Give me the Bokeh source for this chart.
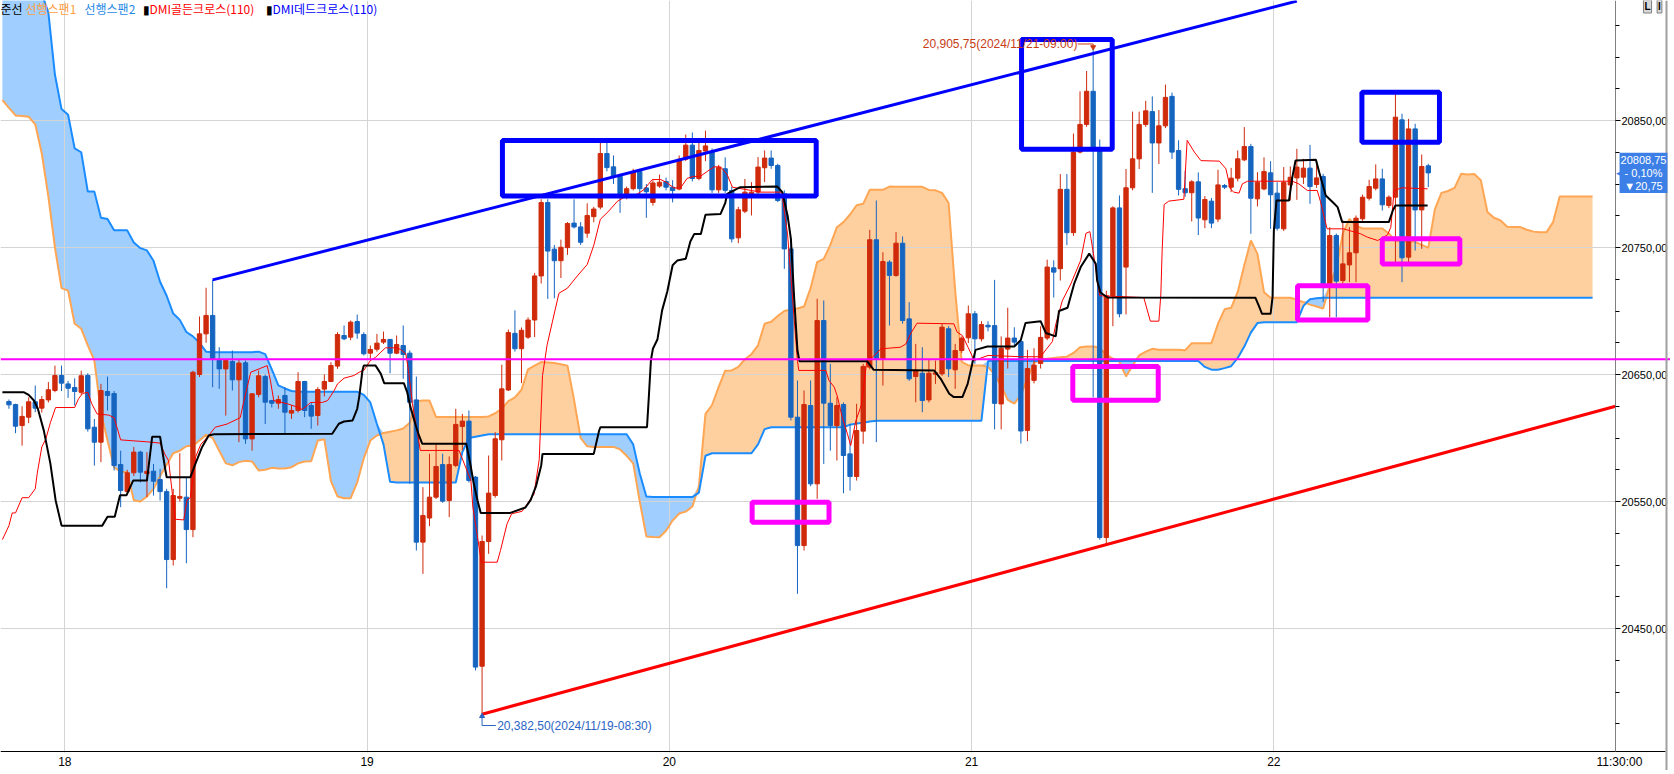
from bokeh.plotting import figure
from bokeh.models import Range1d, Label, Span, FixedTicker, CustomJSTickFormatter, ColumnDataSource
from bokeh.embed import file_html
from bokeh.resources import INLINE
import numpy as np

# 30분봉, 막대 번호 k (k=9.5 가 18일 경계, 한 날 = 46봉)
bar_k = list(range(1, 218))
opens = [
    20628.7, 20626.4, 20609.8, 20616.4, 20628.5, 20623.5, 20630.0, 20637.4, 20649.2, 20642.6,
    20639.8, 20636.0, 20649.2, 20608.5, 20596.7, 20636.6, 20635.0, 20579.1, 20557.8, 20572.6,
    20588.9, 20572.0, 20573.9, 20567.3, 20557.8, 20504.3, 20552.6, 20553.4, 20527.9, 20650.0,
    20682.0, 20696.5, 20661.0, 20654.4, 20660.2, 20645.8, 20659.2, 20599.3, 20634.3, 20648.4,
    20629.5, 20627.4, 20633.5, 20619.6, 20621.7, 20644.5, 20625.6, 20617.7, 20638.5, 20644.5,
    20656.6, 20680.7, 20679.4, 20691.7, 20681.5, 20666.8, 20669.9, 20675.5, 20677.6, 20666.8,
    20672.8, 20666.8, 20630.0, 20518.0, 20537.0, 20553.4, 20579.1, 20550.8, 20578.4, 20609.1,
    20613.3, 20569.2, 20420.3, 20518.5, 20554.7, 20598.6, 20637.8, 20682.4, 20670.3, 20679.4,
    20692.9, 20727.6, 20785.4, 20748.7, 20739.6, 20749.9, 20769.2, 20766.2, 20761.3, 20774.3,
    20781.8, 20824.0, 20813.5, 20806.0, 20792.4, 20796.3, 20809.9, 20796.9, 20785.5, 20798.4,
    20802.0, 20797.5, 20796.0, 20819.5, 20830.6, 20804.4, 20826.0, 20825.5, 20795.4, 20812.0,
    20794.9, 20757.6, 20778.6, 20791.0, 20793.6, 20812.8, 20820.4, 20814.6, 20792.3, 20748.9,
    20616.4, 20515.3, 20625.6, 20563.9, 20692.5, 20627.4, 20609.8, 20626.4, 20587.5, 20569.7,
    20605.4, 20655.8, 20756.1, 20662.4, 20738.5, 20728.0, 20753.4, 20693.8, 20648.4, 20651.0,
    20630.0, 20650.2, 20650.5, 20686.0, 20653.7, 20668.9, 20678.9, 20697.8, 20678.1, 20688.8,
    20688.5, 20626.8, 20670.0, 20678.7, 20676.0, 20606.0, 20645.4, 20658.7, 20678.7, 20734.0,
    20733.3, 20795.8, 20761.7, 20825.1, 20846.9, 20873.0, 20828.0, 20521.6, 20712.0, 20781.2,
    20734.6, 20797.0, 20819.8, 20846.9, 20857.0, 20832.3, 20845.8, 20869.0, 20826.4, 20796.3,
    20793.1, 20801.7, 20771.8, 20786.5, 20772.4, 20798.8, 20797.5, 20804.6, 20819.0, 20829.5,
    20788.3, 20796.1, 20808.8, 20792.8, 20764.7, 20799.3, 20804.8, 20805.4, 20812.5, 20799.6,
    20805.9, 20721.4, 20759.4, 20724.0, 20736.3, 20745.8, 20772.6, 20788.8, 20796.7, 20804.0,
    20783.1, 20789.6, 20850.5, 20742.4, 20843.4, 20779.6, 20814.3,
]
highs = [
    20630.3, 20627.0, 20625.0, 20632.0, 20641.3, 20633.0, 20644.0, 20657.0, 20657.0, 20645.0,
    20647.0, 20653.0, 20651.0, 20615.0, 20642.6, 20648.4, 20637.0, 20590.0, 20575.0, 20593.0,
    20590.0, 20588.9, 20579.6, 20575.7, 20560.0, 20560.0, 20588.0, 20569.0, 20653.0, 20695.7,
    20718.3, 20724.5, 20671.5, 20662.0, 20668.9, 20662.0, 20661.0, 20635.0, 20653.2, 20650.0,
    20630.0, 20633.5, 20640.0, 20625.6, 20651.8, 20645.0, 20628.2, 20640.0, 20650.0, 20659.7,
    20683.3, 20688.6, 20692.5, 20697.2, 20683.3, 20672.8, 20682.0, 20683.8, 20678.0, 20680.7,
    20688.6, 20668.9, 20648.4, 20561.3, 20587.6, 20594.9, 20587.6, 20585.5, 20623.0, 20619.0,
    20621.7, 20570.0, 20523.2, 20586.2, 20604.6, 20657.7, 20685.4, 20700.5, 20687.0, 20695.0,
    20730.0, 20788.0, 20788.0, 20752.0, 20756.2, 20770.0, 20787.9, 20770.0, 20784.8, 20782.0,
    20833.0, 20833.0, 20822.5, 20808.0, 20798.0, 20812.0, 20812.0, 20800.0, 20803.0, 20807.4,
    20805.0, 20803.0, 20822.5, 20839.0, 20840.6, 20836.0, 20842.0, 20828.0, 20815.0, 20821.0,
    20798.0, 20782.0, 20804.0, 20801.5, 20821.2, 20826.4, 20826.4, 20816.0, 20795.0, 20756.8,
    20645.3, 20637.4, 20645.3, 20709.6, 20708.3, 20658.4, 20632.2, 20628.0, 20611.2, 20626.9,
    20658.4, 20763.9, 20787.0, 20746.3, 20740.0, 20762.1, 20758.7, 20707.0, 20674.1, 20671.5,
    20661.5, 20661.0, 20690.0, 20688.0, 20674.1, 20680.0, 20704.3, 20700.0, 20692.0, 20692.0,
    20724.5, 20680.0, 20702.6, 20687.2, 20678.0, 20669.4, 20670.7, 20688.0, 20740.4, 20739.9,
    20807.8, 20807.8, 20839.7, 20873.0, 20889.0, 20905.75, 20835.0, 20716.0, 20782.5, 20791.0,
    20811.8, 20857.0, 20857.0, 20865.5, 20869.0, 20858.3, 20878.3, 20872.0, 20834.4, 20810.5,
    20803.0, 20809.1, 20790.5, 20789.0, 20811.2, 20800.0, 20812.7, 20826.4, 20844.8, 20831.6,
    20809.3, 20821.0, 20818.0, 20801.4, 20813.3, 20813.8, 20827.7, 20819.8, 20830.8, 20818.5,
    20808.0, 20766.0, 20761.0, 20771.3, 20766.0, 20775.2, 20791.7, 20803.3, 20815.4, 20812.0,
    20791.0, 20871.0, 20855.3, 20851.3, 20847.4, 20823.2, 20815.9,
]
lows = [
    20623.0, 20603.8, 20594.0, 20611.7, 20620.3, 20620.0, 20628.0, 20636.0, 20637.0, 20631.6,
    20625.6, 20634.0, 20605.0, 20578.3, 20581.0, 20621.6, 20574.4, 20545.5, 20556.0, 20570.0,
    20565.0, 20553.4, 20554.7, 20550.8, 20481.7, 20499.6, 20550.0, 20501.4, 20521.9, 20648.0,
    20675.0, 20640.0, 20638.7, 20617.7, 20637.4, 20596.7, 20595.4, 20590.0, 20632.0, 20611.0,
    20624.0, 20623.0, 20603.8, 20615.0, 20620.0, 20616.4, 20607.2, 20609.8, 20632.7, 20644.0,
    20654.5, 20677.0, 20677.0, 20678.1, 20665.0, 20661.0, 20668.0, 20674.0, 20651.0, 20666.0,
    20646.6, 20564.0, 20511.4, 20493.0, 20530.6, 20552.0, 20549.0, 20537.7, 20577.0, 20590.2,
    20565.0, 20417.0, 20382.5, 20508.8, 20553.0, 20582.3, 20637.0, 20668.0, 20643.2, 20678.0,
    20679.4, 20721.6, 20709.5, 20710.0, 20726.0, 20744.2, 20765.0, 20752.0, 20757.7, 20769.8,
    20780.0, 20810.0, 20800.0, 20777.3, 20787.9, 20795.0, 20790.0, 20773.4, 20783.0, 20797.0,
    20795.0, 20785.5, 20795.0, 20818.0, 20802.0, 20802.9, 20818.0, 20793.0, 20793.0, 20793.0,
    20754.0, 20753.4, 20777.0, 20775.2, 20792.0, 20801.5, 20812.0, 20785.7, 20733.2, 20613.8,
    20477.3, 20511.4, 20562.0, 20552.1, 20579.6, 20590.0, 20582.3, 20556.5, 20558.6, 20566.5,
    20595.4, 20654.0, 20596.7, 20641.3, 20688.6, 20727.0, 20690.0, 20645.0, 20628.2, 20620.3,
    20628.0, 20642.6, 20649.0, 20648.0, 20638.7, 20667.0, 20674.7, 20658.4, 20676.0, 20684.0,
    20606.8, 20606.8, 20654.7, 20673.0, 20595.6, 20597.5, 20643.0, 20654.7, 20677.0, 20710.6,
    20724.0, 20751.9, 20759.1, 20824.0, 20845.0, 20632.0, 20520.0, 20516.3, 20688.0, 20695.0,
    20697.3, 20795.0, 20811.8, 20845.0, 20793.0, 20815.8, 20844.0, 20819.8, 20791.0, 20790.0,
    20770.5, 20759.8, 20765.2, 20765.2, 20770.0, 20796.0, 20793.6, 20802.0, 20818.0, 20760.8,
    20782.3, 20795.0, 20764.7, 20763.4, 20763.0, 20787.0, 20787.5, 20800.0, 20784.4, 20797.0,
    20707.0, 20695.1, 20695.1, 20721.4, 20722.7, 20722.7, 20771.0, 20787.0, 20795.0, 20779.1,
    20781.0, 20738.4, 20722.7, 20737.6, 20747.6, 20749.0, 20797.5,
]
closes = [
    20626.1, 20609.3, 20617.0, 20628.5, 20623.5, 20630.3, 20638.0, 20649.2, 20643.2, 20639.2,
    20636.6, 20649.0, 20607.2, 20596.7, 20637.4, 20633.5, 20578.3, 20558.6, 20572.6, 20588.9,
    20573.1, 20573.8, 20566.0, 20557.8, 20504.3, 20554.7, 20554.0, 20527.9, 20651.8, 20682.0,
    20696.5, 20662.3, 20654.4, 20661.0, 20645.8, 20659.0, 20599.3, 20634.8, 20649.0, 20628.2,
    20627.4, 20630.3, 20620.3, 20621.7, 20644.5, 20621.7, 20617.2, 20638.2, 20644.5, 20657.1,
    20681.5, 20678.1, 20691.2, 20682.6, 20666.3, 20669.7, 20674.7, 20677.6, 20666.8, 20673.6,
    20665.8, 20628.2, 20518.0, 20539.0, 20553.4, 20577.6, 20550.3, 20579.1, 20610.7, 20613.3,
    20566.5, 20419.6, 20518.5, 20556.6, 20599.4, 20638.7, 20683.0, 20670.3, 20684.8, 20692.9,
    20727.6, 20785.4, 20747.2, 20739.6, 20750.2, 20768.9, 20766.2, 20754.1, 20775.2, 20780.3,
    20824.0, 20812.9, 20806.0, 20792.4, 20796.3, 20809.9, 20796.3, 20793.9, 20800.8, 20801.4,
    20797.5, 20794.8, 20819.5, 20830.6, 20804.4, 20826.4, 20830.0, 20795.4, 20812.9, 20795.0,
    20756.8, 20779.7, 20793.6, 20793.6, 20813.3, 20820.4, 20814.6, 20787.0, 20748.9, 20616.4,
    20515.3, 20626.4, 20563.9, 20692.5, 20627.4, 20609.8, 20625.6, 20586.2, 20569.7, 20605.9,
    20656.3, 20756.1, 20662.4, 20739.0, 20728.0, 20753.4, 20692.5, 20646.6, 20653.2, 20629.5,
    20651.0, 20651.3, 20687.3, 20654.5, 20668.9, 20678.6, 20697.8, 20678.1, 20689.3, 20687.5,
    20627.3, 20670.7, 20678.7, 20675.5, 20605.5, 20654.7, 20657.4, 20679.2, 20734.6, 20730.6,
    20795.8, 20761.7, 20825.1, 20846.9, 20873.0, 20828.0, 20521.6, 20712.0, 20781.2, 20697.8,
    20797.0, 20819.8, 20846.9, 20857.6, 20832.3, 20845.8, 20868.2, 20825.1, 20795.8, 20793.1,
    20801.7, 20773.2, 20787.8, 20769.2, 20799.3, 20797.5, 20804.6, 20819.8, 20829.5, 20788.8,
    20801.4, 20809.8, 20791.5, 20765.2, 20801.4, 20805.3, 20813.3, 20812.5, 20798.0, 20804.8,
    20721.4, 20759.4, 20723.5, 20737.1, 20745.8, 20773.1, 20789.6, 20798.0, 20804.0, 20783.6,
    20789.6, 20852.6, 20741.9, 20843.4, 20779.6, 20813.8, 20808.75,
]

# 선행스팬1 / 선행스팬2, k = 0..242 (26봉 앞으로 그려짐)
span_k = list(range(0, 243))
span1 = [
    20866, 20860, 20854, 20853.5, 20853, 20847, 20824, 20790, 20750, 20718,
    20716, 20690, 20686, 20673, 20661, 20620, 20598, 20577, 20573.5, 20573,
    20551, 20550, 20554, 20560, 20570, 20579, 20588, 20590, 20593.5, 20594,
    20598, 20602.5, 20600, 20590, 20580, 20578.5, 20581, 20582, 20581.5, 20574.5,
    20575, 20576.5, 20576, 20576, 20577, 20580, 20581.5, 20581.7, 20598, 20599,
    20566, 20554, 20552.6, 20552.6, 20565, 20584, 20598, 20602, 20604, 20605,
    20606, 20607.5, 20612, 20629, 20629.5, 20629.5, 20616.5, 20616.5, 20616.5, 20616.5,
    20616.5, 20616.5, 20616.5, 20616.5, 20617, 20619.5, 20623, 20629, 20632, 20638,
    20654, 20657, 20659.8, 20659.5, 20659, 20658, 20657, 20630, 20600, 20593.5,
    20593, 20593, 20593, 20593, 20591, 20586, 20580, 20550, 20522.5, 20522,
    20521.8, 20527, 20535, 20540.5, 20542, 20546, 20562, 20619, 20626, 20640,
    20653, 20653.2, 20656, 20662, 20666, 20673, 20690, 20691.5, 20696, 20700,
    20701.2, 20702, 20703.5, 20718, 20738.5, 20741, 20752, 20766, 20770, 20776,
    20783.3, 20784.4, 20795.4, 20795.4, 20795.4, 20798, 20797.8, 20797.8, 20797.8, 20797.8,
    20797.8, 20795.3, 20795, 20793, 20785, 20716, 20660, 20657.1, 20657.1, 20657.1,
    20656, 20650, 20641, 20630, 20627, 20634, 20647, 20659, 20662, 20662.5,
    20663, 20663.5, 20664, 20667, 20671.5, 20672, 20672, 20671, 20665.5, 20662.5,
    20660, 20648.5, 20657, 20665, 20668, 20670.2, 20669.5, 20669.5, 20669.5, 20669.5,
    20669, 20674.7, 20674.7, 20674.7, 20674.7, 20690, 20701.3, 20702.5, 20715, 20736,
    20755.5, 20745, 20714.8, 20710.4, 20710.4, 20710.4, 20710.4, 20709, 20707, 20705,
    20703.5, 20702, 20720, 20734, 20761, 20772.5, 20767, 20765, 20765, 20765,
    20765, 20761, 20755.3, 20754.5, 20754.5, 20754.5, 20752, 20749.7, 20780, 20793,
    20794.5, 20797, 20808, 20807.5, 20807.8, 20803, 20778, 20773.4, 20771.3, 20766.3,
    20766.1, 20766.1, 20764, 20762.5, 20762.1, 20762.1, 20770, 20790.2, 20790.2, 20790.2,
    20790.2, 20790.2, 20790.2,
]
span2 = [
    20950, 20950, 20950, 20950, 20950, 20950, 20950, 20935, 20886, 20859,
    20854.5, 20828, 20825, 20794, 20794, 20773.5, 20772.5, 20763.5, 20763.5, 20763.5,
    20754, 20749.5, 20747.7, 20739.5, 20723, 20712, 20698, 20693, 20683.5, 20680,
    20675, 20668, 20667.6, 20667.6, 20667.6, 20667.6, 20667.6, 20667.6, 20667.6, 20668,
    20666, 20654, 20641.5, 20639, 20637, 20636.5, 20636.5, 20636.5, 20636.5, 20636.5,
    20636.5, 20636.5, 20636.5, 20636.5, 20636.5, 20634, 20628, 20611, 20595, 20565.5,
    20565, 20565, 20565, 20565, 20565, 20565, 20565, 20565, 20565, 20565,
    20589, 20600, 20601, 20602, 20603, 20603, 20603, 20603, 20603, 20603,
    20603, 20603, 20603, 20603, 20603, 20603, 20603, 20603, 20603, 20603,
    20603, 20603, 20603, 20603, 20603, 20603, 20595, 20572, 20554, 20553.5,
    20553.5, 20553.5, 20553.5, 20553.5, 20553.5, 20553.5, 20557, 20586, 20588, 20588,
    20588, 20588, 20588, 20588, 20588, 20595, 20607, 20608.5, 20608.5, 20608.5,
    20608.5, 20608.5, 20608.5, 20608.5, 20608.5, 20608.5, 20608.5, 20608.5, 20608.5, 20610.5,
    20611.5, 20612, 20613, 20613.6, 20613.6, 20613.6, 20613.6, 20613.6, 20613.6, 20613.6,
    20613.6, 20613.6, 20613.6, 20613.6, 20613.6, 20613.6, 20613.6, 20613.6, 20613.6, 20613.6,
    20660.6, 20660.6, 20660.6, 20660.6, 20660.6, 20660.6, 20660.6, 20660.6, 20660.6, 20660.6,
    20660.6, 20660.6, 20660.6, 20660.6, 20660.6, 20660.6, 20660.6, 20660.6, 20660.6, 20660.6,
    20660.6, 20660.6, 20660.6, 20660.6, 20660.6, 20660.6, 20660.6, 20660.6, 20660.6, 20660.6,
    20660.6, 20660.6, 20660.6, 20656, 20653.8, 20653.8, 20655, 20656.5, 20663, 20672,
    20683, 20690.5, 20691.2, 20691.2, 20691.2, 20691.2, 20691.2, 20691.2, 20704, 20709.3,
    20710, 20710.4, 20710.4, 20710.4, 20710.4, 20710.4, 20710.4, 20710.4, 20710.4, 20710.4,
    20710.4, 20710.4, 20710.4, 20710.4, 20710.4, 20710.4, 20710.4, 20710.4, 20710.4, 20710.4,
    20710.4, 20710.4, 20710.4, 20710.4, 20710.4, 20710.4, 20710.4, 20710.4, 20710.4, 20710.4,
    20710.4, 20710.4, 20710.4, 20710.4, 20710.4, 20710.4, 20710.4, 20710.4, 20710.4, 20710.4,
    20710.4, 20710.4, 20710.4,
]

# 전환선 (빨강) / 기준선 (검정): 그림에서 읽은 꺾임점
conv_k = [0, 1, 1.5, 2, 3, 4, 5, 5.3, 6, 6.6, 7.3, 8.1, 11, 11.6, 12.2, 13, 13.6, 14.4, 16.2, 17,
          18, 22, 24, 24.7, 25.3, 26, 26.3, 27.6, 28.1, 28.6, 29.4, 30.2, 31.2, 32.4, 34.2, 36.2, 36.7, 37.8, 40.3, 40.8,
          41.3, 43.4, 44.9, 45.6, 46.4, 46.9, 48.7, 49.5, 50.5, 51, 52, 53.5, 54.3, 55, 56, 56.8, 57.6, 58.3, 60, 60.6,
          61.4, 61.8, 62.4, 63.1, 63.6, 69.5, 70.5, 71.3, 71.6, 72.9, 75.3, 75.8, 76.8, 77.5, 79.1, 80.9, 81.7, 82.2, 82.9, 83.7,
          84.7, 86, 87.5, 89, 90, 91, 92.3, 93.6, 94.6, 96.6, 97.6, 98.9, 100.2, 101, 102.2, 103.2, 104.2, 105.2, 106.2, 107.3,
          108.3, 109.3, 110.3, 111.1, 115.4, 118.6, 119.5, 121, 121.2, 125.3, 125.8, 126.6, 127.1, 127.8, 128.6, 129.1, 129.9, 130.7, 131.6, 132.4,
          133.7, 136.7, 137.5, 138.2, 139.2, 144.8, 145.3, 146.1, 147, 147.9, 150, 155, 158, 158.8, 159.8, 160.3, 161.3, 162.6, 164.1, 164.9,
          165.5, 166.2, 167, 173.7, 174.7, 176, 176.3, 176.5, 176.8, 177.5, 179.8, 180.3, 181.4, 182.4, 185.2, 186.2, 186.9, 187.4, 188.2, 188.7,
          189.5, 196.3, 197.3, 198.6, 200.1, 200.6, 201.6, 204.1, 206.7, 207.7, 209.3, 210.8, 211.3, 211.8, 213, 216.9]
conv_p = [20520, 20531, 20541, 20541, 20553, 20553, 20560, 20572, 20593, 20599,
          20612, 20624, 20624, 20631, 20635, 20636, 20627, 20619, 20618, 20616,
          20598.5, 20597, 20596, 20587.5, 20582, 20550, 20536, 20535.5, 20551, 20553,
          20585, 20595, 20600.7, 20608.5, 20611, 20616, 20628, 20651.8, 20657, 20645,
          20629.5, 20626.9, 20624.3, 20622.5, 20625.6, 20628, 20628, 20629.5, 20637.4, 20642.6,
          20647.1, 20649.2, 20651.8, 20653.2, 20661, 20663.6, 20667.6, 20671, 20671, 20669.7,
          20666.3, 20653, 20627, 20605.9, 20590.2, 20590.2, 20577, 20566.5, 20545.6, 20502.2,
          20502.2, 20511.4, 20532.4, 20540.3, 20542.3, 20555.8, 20583, 20649.2, 20673.3, 20691.4,
          20714, 20718, 20727.6, 20736.6, 20751.7, 20772.2, 20778.8, 20786.4, 20789.4, 20792,
          20795.4, 20803.5, 20803.5, 20801.4, 20796.9, 20796.9, 20804.4, 20806, 20806, 20810,
          20813.5, 20813.5, 20807.4, 20797.5, 20793.6, 20793.6, 20760, 20660.5, 20653.2, 20653.2,
          20645.3, 20640, 20632.2, 20616.4, 20603.3, 20594.1, 20613.8, 20625.6, 20662.3, 20663.6,
          20670.2, 20671.5, 20674.1, 20682, 20690.4, 20689.9, 20683.3, 20680.7, 20671, 20661,
          20665, 20664, 20664, 20669.4, 20676, 20689.3, 20708, 20721.3, 20739.9, 20761.2,
          20762.5, 20740, 20712, 20710.6, 20692, 20692, 20713.3, 20747.9, 20783.8, 20786.5,
          20788, 20834.4, 20825.1, 20818.4, 20818, 20812, 20796, 20793.6, 20792.8, 20800.1,
          20802.2, 20802.2, 20800.1, 20794.9, 20794.9, 20786, 20764.7, 20764.7, 20760.8, 20758.2,
          20755.5, 20760, 20766, 20794.9, 20797, 20796.2]
base_k = [0, 3.3, 4, 4.8, 5.4, 6.3, 7.3, 8.1, 9, 15.2, 16, 17.1, 17.9, 18.9, 19.9, 22, 22.8, 24, 24.8, 25,
          28.6, 29.4, 30.4, 31.4, 32.2, 50.2, 51.2, 52, 53.3, 54, 54.3, 54.8, 55, 56.8, 57.6, 58.1, 61.1, 61.6, 62.1, 62.9,
          63.4, 63.9, 70.6, 71.2, 71.7, 72.3, 72.8, 77.3, 79.6, 80.4, 81.2, 82, 82.2, 90, 90.8, 91, 98.1, 98.4, 98.7, 99,
          99.7, 100.4, 101.2, 102, 102.7, 104, 104.7, 105.3, 106.3, 107, 109.3, 110, 110.3, 112.3, 117.9, 118.7, 119.5, 120, 120.5, 121,
          121.3, 131.6, 132.6, 141.8, 142.8, 144.1, 144.8, 146.1, 146.9, 147.6, 148.1, 149.9, 154, 155, 155.7, 158, 158.8, 160.3, 160.8, 162.1,
          163.1, 164.1, 165.4, 166.4, 166.6, 167.1, 168.2, 190.7, 191.2, 191.7, 193, 193.3, 193.5, 193.9, 195.8, 196.3, 196.8, 199.9, 200.4, 201.4,
          202.7, 203.2, 203.9, 211, 211.6, 212, 216.9]
base_p = [20636, 20636, 20634, 20629.5, 20623, 20606, 20580, 20551, 20531, 20531,
          20538, 20538, 20555, 20555, 20566.5, 20566.5, 20601, 20601, 20575, 20569,
          20569, 20580, 20593, 20602, 20603, 20603.3, 20611.2, 20613, 20613.8, 20623,
          20632.2, 20653.2, 20657, 20657, 20650.5, 20643.2, 20643.2, 20636.1, 20624.3, 20610,
          20602, 20595.4, 20595.4, 20580, 20565, 20551, 20541, 20541, 20545.3, 20551.3,
          20561.9, 20578.4, 20587.5, 20587.5, 20605.5, 20608.5, 20608.5, 20634.2, 20661.3, 20670.3,
          20677.8, 20700.5, 20715.6, 20736, 20739.7, 20741.2, 20754.7, 20760.7, 20760.7, 20775.8,
          20776.4, 20784.9, 20792.3, 20797.5, 20798, 20793.6, 20775, 20756.8, 20710, 20668.9,
          20660.5, 20660.5, 20653.7, 20653.2, 20646.6, 20634.8, 20632.2, 20632.2, 20642.6, 20658.4,
          20669.4, 20672, 20672, 20677.3, 20690.6, 20692, 20682.7, 20680, 20700, 20702.6,
          20721.3, 20734.6, 20745.2, 20737.2, 20724, 20714.6, 20710.6, 20710.4, 20704.3, 20697.8,
          20697.8, 20710.9, 20763.4, 20787, 20787, 20805, 20818.5, 20819, 20809.3, 20790.9,
          20784.4, 20781.8, 20770, 20770, 20779.1, 20783.1, 20783.1]

# 사용자가 그린 추세선, 수평선, 박스
trend_blue_k = [32, 197]
trend_blue_p = [20724.5, 20944.0]
trend_red_k = [73, 245.5]
trend_red_p = [20382.5, 20625.0]
level_line = 20662
blue_box_left = [76.1, 155.1, 206.9]
blue_box_right = [123.85, 168.9, 218.7]
blue_box_top = [20834.3, 20913.7, 20872.3]
blue_box_bottom = [20790.6, 20827.4, 20832.9]
pink_box_left = [114.1, 162.9, 197.1, 210.0]
pink_box_right = [125.8, 175.9, 207.8, 221.8]
pink_box_top = [20549.4, 20656.3, 20719.8, 20756.9]
pink_box_bottom = [20533.7, 20629.7, 20692.9, 20737.0]

day_grid_k = [9.5, 55.5, 101.5, 147.5, 193.5]
day_labels = ["18", "19", "20", "21", "22"]
price_ticks = [20450, 20550, 20650, 20750, 20850]
price_minor = [20375, 20400, 20425, 20475, 20500, 20525, 20575, 20600, 20625, 20675, 20700,
               20725, 20775, 20800, 20825, 20875, 20900, 20925]

RED = "#CF2A0B"
BLUE = "#1565C0"
FONT = "Liberation Sans"
KFONT = "Noto Sans CJK KR"
W, H = 1670, 770          # 캔버스 = 플롯 영역
AXIS_X, AXIS_Y = 1615, 751  # 가격축 / 시간축 위치 (px)


def kx(px):  # 화면 x(px) -> 막대 좌표
    return (px - 1.88) / 6.571


def py(px):  # 화면 y(px) -> 가격
    return 20850 - (px - 120) / 1.27


p = figure(frame_width=W, frame_height=H,
           x_range=Range1d(kx(0), kx(W)), y_range=Range1d(py(H), py(0)),
           output_backend="svg", toolbar_location=None, y_axis_location="right",
           min_border=0)
p.outline_line_color = None
p.background_fill_color = "white"
p.border_fill_color = "white"

# 축 바깥 여백 (격자선 가림)
p.quad(left=[kx(AXIS_X + 1), kx(0)], right=[kx(W + 10), kx(W + 10)],
       top=[py(-10), py(AXIS_Y + 1)], bottom=[py(H + 10), py(H + 10)],
       fill_color="white", line_color=None)

# 구름대
s1 = np.array(span1)
s2 = np.array(span2)
top = np.maximum(s1, s2)
p.varea(span_k, s2, top, fill_color="#FFD09F", level="image")
p.varea(span_k, s1, top, fill_color="#A0CEFF", level="image")
p.line(span_k, span1, line_color="#FFA654", line_width=2)
p.line(span_k, span2, line_color="#1A8CFF", line_width=2)

# 캔들
o = np.array(opens)
c = np.array(closes)
colors = np.where(c >= o, RED, BLUE)
src = ColumnDataSource(dict(k=bar_k, h=highs, l=lows, top=np.maximum(o, c), bot=np.minimum(o, c), color=colors))
p.segment("k", "h", "k", "l", source=src, line_color="color", line_width=1)
p.vbar(x="k", width=0.66, top="top", bottom="bot", source=src, fill_color="color", line_color="color", line_width=1)

p.line(conv_k, conv_p, line_color="#FF0000", line_width=1)
p.line(base_k, base_p, line_color="black", line_width=2)

p.line(trend_blue_k, trend_blue_p, line_color="#0000FF", line_width=3)
p.line(trend_red_k, trend_red_p, line_color="#FF0000", line_width=3)
p.add_layout(Span(location=level_line, dimension="width", line_color="#FF00FF", line_width=2))
p.quad(left=blue_box_left, right=blue_box_right, top=blue_box_top, bottom=blue_box_bottom,
       fill_color=None, line_color="#0000FF", line_width=5)
p.quad(left=pink_box_left, right=pink_box_right, top=pink_box_top, bottom=pink_box_bottom,
       fill_color=None, line_color="#FF00FF", line_width=5)

# 최고/최저 표시
hi_i = int(np.argmax(highs))
lo_i = int(np.argmin(lows))
hi_k, hi_p = bar_k[hi_i], highs[hi_i]
lo_k, lo_p = bar_k[lo_i], lows[lo_i]
p.line([hi_k - 2.35, hi_k, hi_k], [hi_p + 4.5, hi_p + 4.5, hi_p + 1.5], line_color="#C83C14", line_width=1)
p.scatter([hi_k], [hi_p + 2], marker="inverted_triangle", size=5, color="#C83C14")
p.add_layout(Label(x=hi_k - 2.4, y=hi_p + 4.5, text="20,905,75(2024/11/21-09:00)", text_align="right",
                   text_baseline="middle", text_color="#C83C14", text_font=FONT, text_font_size="12px"))
p.line([lo_k, lo_k, lo_k + 2.1], [lo_p - 1.5, lo_p - 8.9, lo_p - 8.9], line_color="#2B64C4", line_width=1)
p.scatter([lo_k], [lo_p - 1.5], marker="triangle", size=5, color="#2B64C4")
p.add_layout(Label(x=lo_k + 2.3, y=lo_p - 8.9, text="20,382,50(2024/11/19-08:30)", text_align="left",
                   text_baseline="middle", text_color="#2B64C4", text_font=FONT, text_font_size="12px"))

# 격자와 축
time_ticks = day_grid_k + [kx(AXIS_X + 4)]
time_labels = day_labels + ["11:30:00"]
p.xaxis.fixed_location = py(AXIS_Y)
p.xaxis.bounds = (kx(0), kx(W - 5))
p.xaxis.ticker = FixedTicker(ticks=time_ticks)
p.xaxis.formatter = CustomJSTickFormatter(args=dict(labels=time_labels), code="return labels[index];")
p.xaxis.major_label_text_align = "left"
p.xaxis.major_label_text_font = FONT
p.xaxis.major_label_text_font_size = "12px"
p.xaxis.major_label_text_color = "black"
p.xaxis.major_label_standoff = 3
p.xaxis.major_tick_in = 0
p.xaxis.major_tick_out = 0
p.xaxis.axis_line_color = "black"
p.yaxis.fixed_location = kx(AXIS_X)
p.yaxis.bounds = (py(AXIS_Y), py(0))
p.yaxis.ticker = FixedTicker(ticks=price_ticks, minor_ticks=price_minor)
p.yaxis.formatter = CustomJSTickFormatter(code="return tick.toFixed(2).replace('.', ',');")
p.yaxis.major_label_text_font = FONT
p.yaxis.major_label_text_font_size = "11px"
p.yaxis.major_label_text_color = "black"
p.yaxis.major_label_standoff = 1
p.yaxis.major_tick_in = 0
p.yaxis.major_tick_out = 5
p.yaxis.minor_tick_in = 0
p.yaxis.minor_tick_out = 4
p.yaxis.axis_line_color = "#808080"
p.grid.grid_line_color = "#D4D4D4"

# 오른쪽 도구 막대 경계선
p.add_layout(Span(location=kx(1666), dimension="height", line_color="#A0A0A0", line_width=2))

# 현재가 박스
p.add_layout(Label(x=kx(1619), y=closes[-1], text="◀", text_align="center", text_baseline="middle",
                   text_color="#3C7FE6", text_font_size="9px"))
p.add_layout(Label(x=kx(1643), y=closes[-1], text="20808,75\n- 0,10%\n▼20,75", text_align="center",
                   text_baseline="middle", text_color="white", text_font=FONT, text_font_size="11px",
                   text_line_height=1.1, background_fill_color="#3C7FE6", padding=1))

# 오른쪽 위 L / I 단추
for txt, x0 in [("L", 1647), ("I", 1659)]:
    p.add_layout(Label(x=kx(x0), y=py(6), text=txt, text_align="center", text_baseline="middle",
                       text_color="black", text_font=FONT, text_font_size="10px", text_font_style="bold",
                       background_fill_color="#D8D8D8", border_line_color="#808080", padding=1))

# 범례
legend_items = [("준선", "black", 0), ("선행스팬1", "#FFA040", 25), ("선행스팬2", "#1E88E5", 84),
                ("▮", "black", 142), ("DMI골든크로스(110)", "#FF0000", 149),
                ("▮", "black", 265), ("DMI데드크로스(110)", "#0000FF", 272)]
for txt, col, x0 in legend_items:
    p.add_layout(Label(x=kx(x0), y=py(7.5), text=txt, text_baseline="middle", text_color=col,
                       text_font=KFONT, text_font_size="12px"))

open("out.html", "w").write(file_html(p, INLINE))
